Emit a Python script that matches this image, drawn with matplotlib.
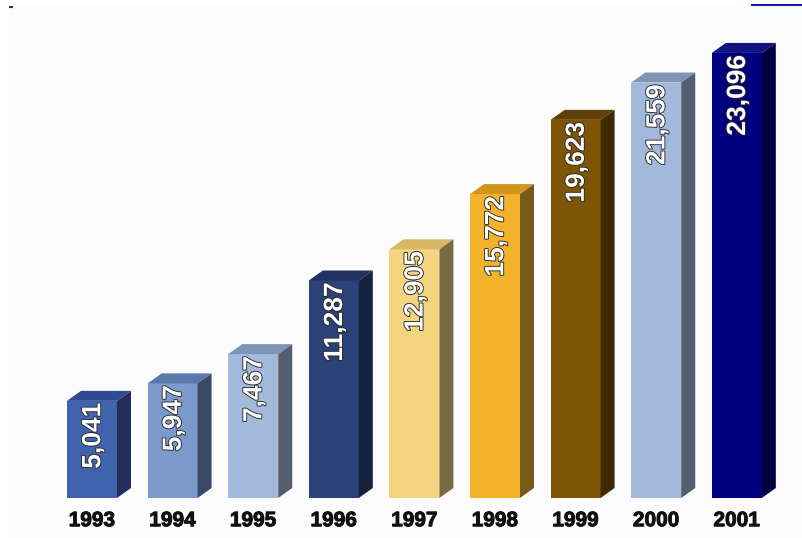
import matplotlib
matplotlib.use("Agg")
import matplotlib.pyplot as plt
from matplotlib.patches import Polygon, Rectangle
from matplotlib.lines import Line2D
import matplotlib.patheffects as pe

years = ["1993", "1994", "1995", "1996", "1997", "1998", "1999", "2000", "2001"]
values = [5041, 5947, 7467, 11287, 12905, 15772, 19623, 21559, 23096]
labels = ["5,041", "5,947", "7,467", "11,287", "12,905", "15,772", "19,623", "21,559", "23,096"]

front_colors = ["#4063ad", "#7b9acb", "#a3b9db", "#2b4279", "#f3d47f",
                "#f3b22b", "#7d5505", "#a3b9db", "#00007f"]
top_colors = ["#2f4c92", "#5b78aa", "#7f95b7", "#1f3262", "#d8b766",
              "#d3951c", "#5f4006", "#7f95b7", "#121282"]
side_colors = ["#222f5c", "#3a4a66", "#555e70", "#16223d", "#7a6a42",
               "#7a5a18", "#3e2a03", "#555e70", "#000040"]

W, H = 803, 538
fig = plt.figure(figsize=(W / 100, H / 100), dpi=100, facecolor="white")

# light chart background
bg = Rectangle((9 / W, 0), 1, (H - 6) / H, transform=fig.transFigure,
               facecolor="#fcfcfc", edgecolor="none", zorder=-10)
fig.add_artist(bg)
# cut-off link underline at top right
fig.add_artist(Line2D([752 / W, 1.0], [1 - 5 / H, 1 - 5 / H], transform=fig.transFigure,
                      color="#1c1ca0", linewidth=1.5))
fig.add_artist(Line2D([10 / W, 12 / W], [1 - 7 / H, 1 - 7 / H], transform=fig.transFigure,
                      color="#333333", linewidth=1.5))

ax_left = 51.7 / W
ax_w = 725.4 / W
ax_bottom = (H - 498) / H
ax_h = 491.4 / H
ax = fig.add_axes([ax_left, ax_bottom, ax_w, ax_h], zorder=5)
ax.set_facecolor("none")
ax.patch.set_alpha(0)
ax.set_xlim(-0.5, len(years) - 0.5)
ax.set_ylim(0, 25500)

bw = 0.62
dx = 0.174
dy = 519

x = list(range(len(years)))
ax.bar(x, values, width=bw, color=front_colors, edgecolor="none", zorder=3)
for i, v in enumerate(values):
    x0 = x[i] - bw / 2
    x1 = x[i] + bw / 2
    top = Polygon([(x0, v), (x1, v), (x1 + dx, v + dy), (x0 + dx, v + dy)],
                  closed=True, facecolor=top_colors[i], edgecolor="none", zorder=3)
    side = Polygon([(x1, 0), (x1 + dx, dy), (x1 + dx, v + dy), (x1, v)],
                   closed=True, facecolor=side_colors[i], edgecolor="none", zorder=3)
    ax.add_patch(top)
    ax.add_patch(side)
    ax.annotate(labels[i], xy=(x[i] + 0.015, v), xytext=(0, -2), textcoords="offset pixels",
                rotation=90, ha="center", va="top", color="white", fontsize=19,
                fontweight="bold", family=["Liberation Sans", "DejaVu Sans"],
                zorder=5,
                path_effects=[pe.withStroke(linewidth=1.3, foreground="#2a2a2a")])

ax.set_xticks(x)
ax.set_xticklabels(years, fontsize=15, fontweight="bold",
                   family=["Liberation Sans", "DejaVu Sans"], color="#111111")
for t in ax.get_xticklabels():
    t.set_path_effects([pe.withStroke(linewidth=0.7, foreground="#111111")])
ax.tick_params(axis="x", length=0, pad=9.5)
ax.set_yticks([])
for s in ax.spines.values():
    s.set_visible(False)

fig.savefig("out.png", dpi=100, facecolor="white")
